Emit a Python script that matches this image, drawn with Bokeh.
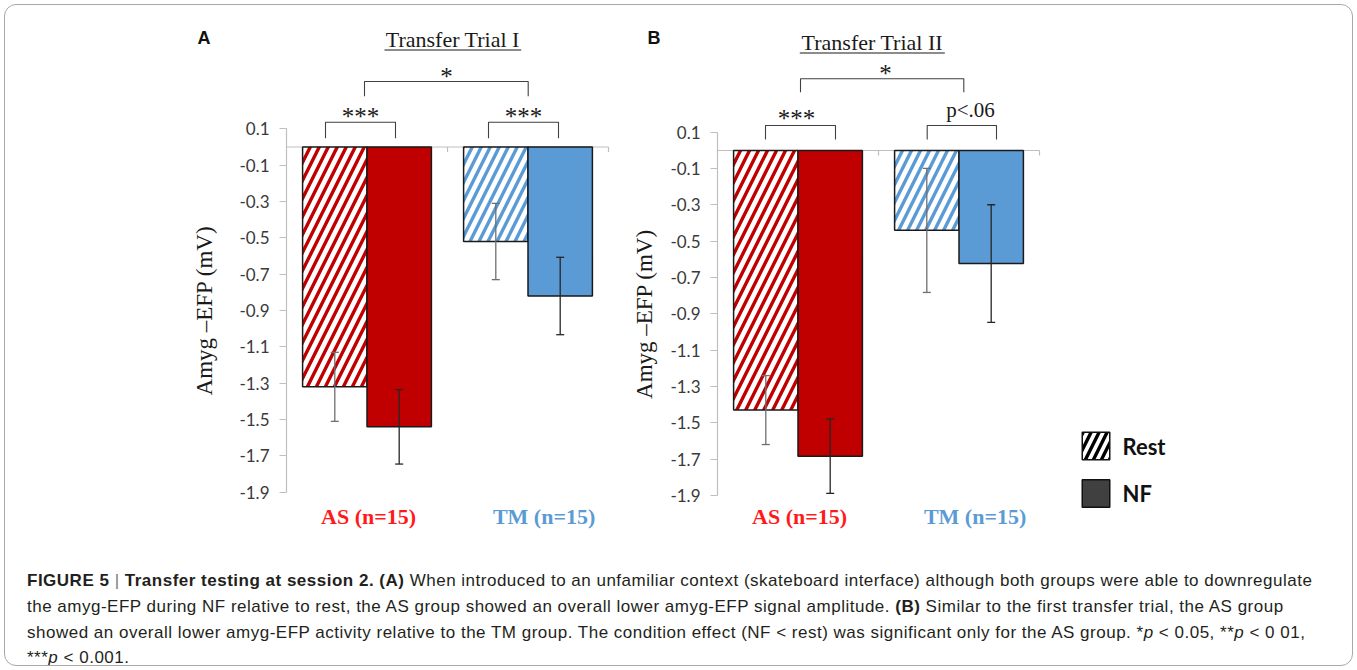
from bokeh.plotting import figure
from bokeh.models import Range1d, FixedTicker, Div, ColumnDataSource
from bokeh.layouts import row, column
from bokeh.core.properties import value
from bokeh.embed import file_html
from bokeh.resources import INLINE

# ---------------- data ----------------
groups = ["AS (n=15)", "TM (n=15)"]
conditions = ["Rest", "NF"]

a_rest = [-1.32, -0.52]
a_nf = [-1.54, -0.82]
a_rest_err = [0.19, 0.21]
a_nf_err = [0.205, 0.213]

b_rest = [-1.43, -0.44]
b_nf = [-1.684, -0.623]
b_rest_err = [0.19, 0.342]
b_nf_err = [0.205, 0.324]

tick_values = [0.1, -0.1, -0.3, -0.5, -0.7, -0.9, -1.1, -1.3, -1.5, -1.7, -1.9]
tick_labels = ["0.1", "-0.1", "-0.3", "-0.5", "-0.7", "-0.9", "-1.1", "-1.3", "-1.5", "-1.7", "-1.9"]

sig_a = ["***", "***", "*"]
sig_b = ["***", "p<.06", "*"]
titles = ["Transfer Trial I", "Transfer Trial II"]
letters = ["A", "B"]
y_label = "Amyg \u2013EFP (mV)"

RED = "#c00000"
BLUE = "#5b9bd5"
LABEL_COLORS = ["#ff1a1a", "#5b9bd5"]
SERIF = "Liberation Serif"
SANS = "Lato"
H = 540


def make_panel(letter, title, rest, nf, rest_err, nf_err, sig, fig_left, width,
               axis_px, ux, uy, zero_px, axis_standoff, cfg, legend=False):
    # helpers: page pixel -> data
    def X(px):
        return (px - axis_px) / ux

    def Y(py):
        return (zero_px - py) / uy

    p = figure(width=width, height=H, output_backend="svg", toolbar_location=None,
               min_border=0,
               x_range=Range1d(X(fig_left), X(fig_left + width)),
               y_range=Range1d(Y(H), Y(0)))
    p.outline_line_color = None
    p.xgrid.visible = False
    p.ygrid.visible = False
    p.xaxis.visible = False
    p.background_fill_color = "white"
    p.border_fill_color = "white"

    ax = p.yaxis[0]
    ax.fixed_location = 0
    ax.bounds = (-1.9, 0.1)
    ax.ticker = FixedTicker(ticks=tick_values)
    ax.major_label_overrides = {v: l for v, l in zip(tick_values, tick_labels)}
    ax.axis_line_color = "#bfbfbf"
    ax.axis_line_width = 1.2
    ax.major_tick_line_color = "#bfbfbf"
    ax.major_tick_line_width = 1.2
    ax.major_tick_out = 7
    ax.major_tick_in = 0
    ax.minor_tick_line_color = None
    ax.major_label_standoff = 10
    ax.major_label_text_font = SANS
    ax.major_label_text_font_size = "17px"
    ax.major_label_text_color = "#3a3a3a"
    ax.axis_label = y_label
    ax.axis_label_text_font = SERIF
    ax.axis_label_text_font_style = "normal"
    ax.axis_label_text_font_size = "23px"
    ax.axis_label_text_color = "#1a1a1a"
    ax.axis_label_standoff = axis_standoff

    centers = [0.5, 1.5]
    # zero baseline (category axis) with its ticks
    p.line(x=[0, 2], y=[0, 0], line_color="#bfbfbf", line_width=1.2)
    p.segment(x0=[1, 2], y0=[0, 0], x1=[1, 2], y1=[-5 / uy] * 2,
              line_color="#bfbfbf", line_width=1.2)

    rest_src = ColumnDataSource(dict(x=[c - 0.2 for c in centers], v=rest, hc=[RED, BLUE]))
    nf_src = ColumnDataSource(dict(x=[c + 0.2 for c in centers], v=nf, fc=[RED, BLUE]))
    p.vbar(x="x", top=0, bottom="v", width=0.4, source=rest_src,
           fill_color="white", hatch_pattern="/", hatch_color="hc",
           hatch_scale=18, hatch_weight=3.4,
           line_color="#1a1a1a", line_width=1.5)
    p.vbar(x="x", top=0, bottom="v", width=0.4, source=nf_src,
           fill_color="fc", line_color="#1a1a1a", line_width=1.5)

    # error bars
    cap = 4 / ux
    for xs, vals, errs, col in (([c - 0.2 for c in centers], rest, rest_err, "#6f6f6f"),
                                ([c + 0.2 for c in centers], nf, nf_err, "#262626")):
        lo = [v - e for v, e in zip(vals, errs)]
        hi = [v + e for v, e in zip(vals, errs)]
        p.segment(x0=xs, y0=lo, x1=xs, y1=hi, line_color=col, line_width=1.3)
        p.segment(x0=[x - cap for x in xs], y0=lo, x1=[x + cap for x in xs], y1=lo,
                  line_color=col, line_width=1.3)
        p.segment(x0=[x - cap for x in xs], y0=hi, x1=[x + cap for x in xs], y1=hi,
                  line_color=col, line_width=1.3)

    # significance brackets (page pixel geometry)
    xs_b, ys_b = [], []
    for (x1, x2, ytop, yleg) in cfg["brackets"]:
        xs_b.append([X(x1), X(x1), X(x2), X(x2)])
        ys_b.append([Y(yleg), Y(ytop), Y(ytop), Y(yleg)])
    p.multi_line(xs=xs_b, ys=ys_b, line_color="#404040", line_width=1.1, line_join="round")
    for (tx, ty, fs), s in zip(cfg["sig_pos"], sig):
        p.text(x=[X(tx)], y=[Y(ty)], text=[s], text_font=value(SERIF), text_font_size=fs,
               text_align="center", text_baseline="middle", text_color="#1a1a1a")

    # title (underlined)
    tcx, tcy, tx1, tx2, tuy = cfg["title"]
    p.text(x=[X(tcx)], y=[Y(tcy)], text=[title], text_font=value(SERIF),
           text_font_size="22px", text_align="center", text_baseline="middle",
           text_color="#1a1a1a")
    p.line(x=[X(tx1), X(tx2)], y=[Y(tuy), Y(tuy)], line_color="#1a1a1a", line_width=1.2)

    # group labels
    p.text(x=[X(axis_px + 0.51 * ux), X(axis_px + 1.6 * ux)], y=[Y(516), Y(516)],
           text=groups, text_color=LABEL_COLORS,
           text_font=value(SERIF), text_font_size="22px", text_font_style="bold",
           text_align="center", text_baseline="middle")

    # panel letter
    lx, ly = cfg["letter"]
    p.text(x=[X(lx)], y=[Y(ly)], text=[letter], text_font=value("Liberation Sans"),
           text_font_size="18px", text_font_style="bold", text_align="center",
           text_baseline="middle", text_color="#111111")

    if legend:
        bx = X(1095.5)
        bw = 27.5 / ux
        bh = 27.5 / uy
        ry = Y(445.5)
        ny = Y(493)
        p.rect(x=[bx], y=[ry], width=bw, height=bh, fill_color="white",
               hatch_pattern="/", hatch_color="black", hatch_scale=16, hatch_weight=3.4,
               line_color="#111111", line_width=1.5)
        p.rect(x=[bx], y=[ny], width=bw, height=bh, fill_color="#404040",
               line_color="#111111", line_width=1.5)
        p.text(x=[X(1122)] * 2, y=[ry, ny], text=conditions, text_font=value(SANS),
               text_font_size="22px", text_font_style="bold", text_align="left",
               text_baseline="middle", text_color="#111111")
    return p


pA = make_panel("A", titles[0], a_rest, a_nf, a_rest_err, a_nf_err, sig_a,
                fig_left=0, width=630, axis_px=286, ux=161, uy=181.7, zero_px=146.5,
                axis_standoff=19,
                cfg=dict(brackets=[(325, 395, 121.7, 137.7),
                                   (488, 558, 121.7, 137.7),
                                   (364, 527.7, 81, 95.7)],
                         sig_pos=[(360, 116, "25px"), (523, 116, "25px"),
                                  (446, 76, "25px")],
                         title=(452.3, 38.5, 384, 520.7, 49.5),
                         letter=(203.5, 37)))

pB = make_panel("B", titles[1], b_rest, b_nf, b_rest_err, b_nf_err, sig_b,
                fig_left=630, width=727, axis_px=717, ux=161, uy=181.5, zero_px=150,
                axis_standoff=10,
                cfg=dict(brackets=[(765, 835, 125, 139),
                                   (926.7, 996, 125, 139),
                                   (800, 963.3, 78.3, 91.7)],
                         sig_pos=[(796, 118, "25px"), (970, 109.2, "21px"),
                                  (885, 72.5, "25px")],
                         title=(871.8, 41.5, 799.3, 944.3, 52.5),
                         letter=(653.5, 37.5)),
                legend=True)

caption_html = (
    '<div style="font-family:\'Liberation Sans\',Arial,sans-serif;font-size:17px;'
    'letter-spacing:0.5px;line-height:25.8px;color:#231f20;white-space:nowrap;'
    'padding:23px 0 0 22px;">'
    '<b>FIGURE 5</b> <span style="color:#777">|</span> <b>Transfer testing at session 2.</b> '
    '<b>(A)</b> When introduced to an unfamiliar context (skateboard interface) although both '
    'groups were able to downregulate<br>'
    'the amyg-EFP during NF relative to rest, the AS group showed an overall lower amyg-EFP '
    'signal amplitude. <b>(B)</b> Similar to the first transfer trial, the AS group<br>'
    'showed an overall lower amyg-EFP activity relative to the TM group. The condition effect '
    '(NF &lt; rest) was significant only for the AS group. *<i>p</i> &lt; 0.05, '
    '**<i>p</i> &lt; 0 01,<br>'
    '***<i>p</i> &lt; 0.001.'
    '</div>'
)
caption = Div(text=caption_html, width=1357, height=130)

frame_css = (
    ":host { position: relative; }"
    ":host::after { content: ''; position: absolute; left: 4px; top: 4px;"
    " width: 1349px; height: 662px; box-sizing: border-box;"
    " border: 1.5px solid #a8a8a8; border-radius: 12px;"
    " pointer-events: none; z-index: 100; }"
)
layout = column(row(pA, pB), caption, stylesheets=[frame_css])

open("out.html", "w").write(file_html(layout, INLINE))
